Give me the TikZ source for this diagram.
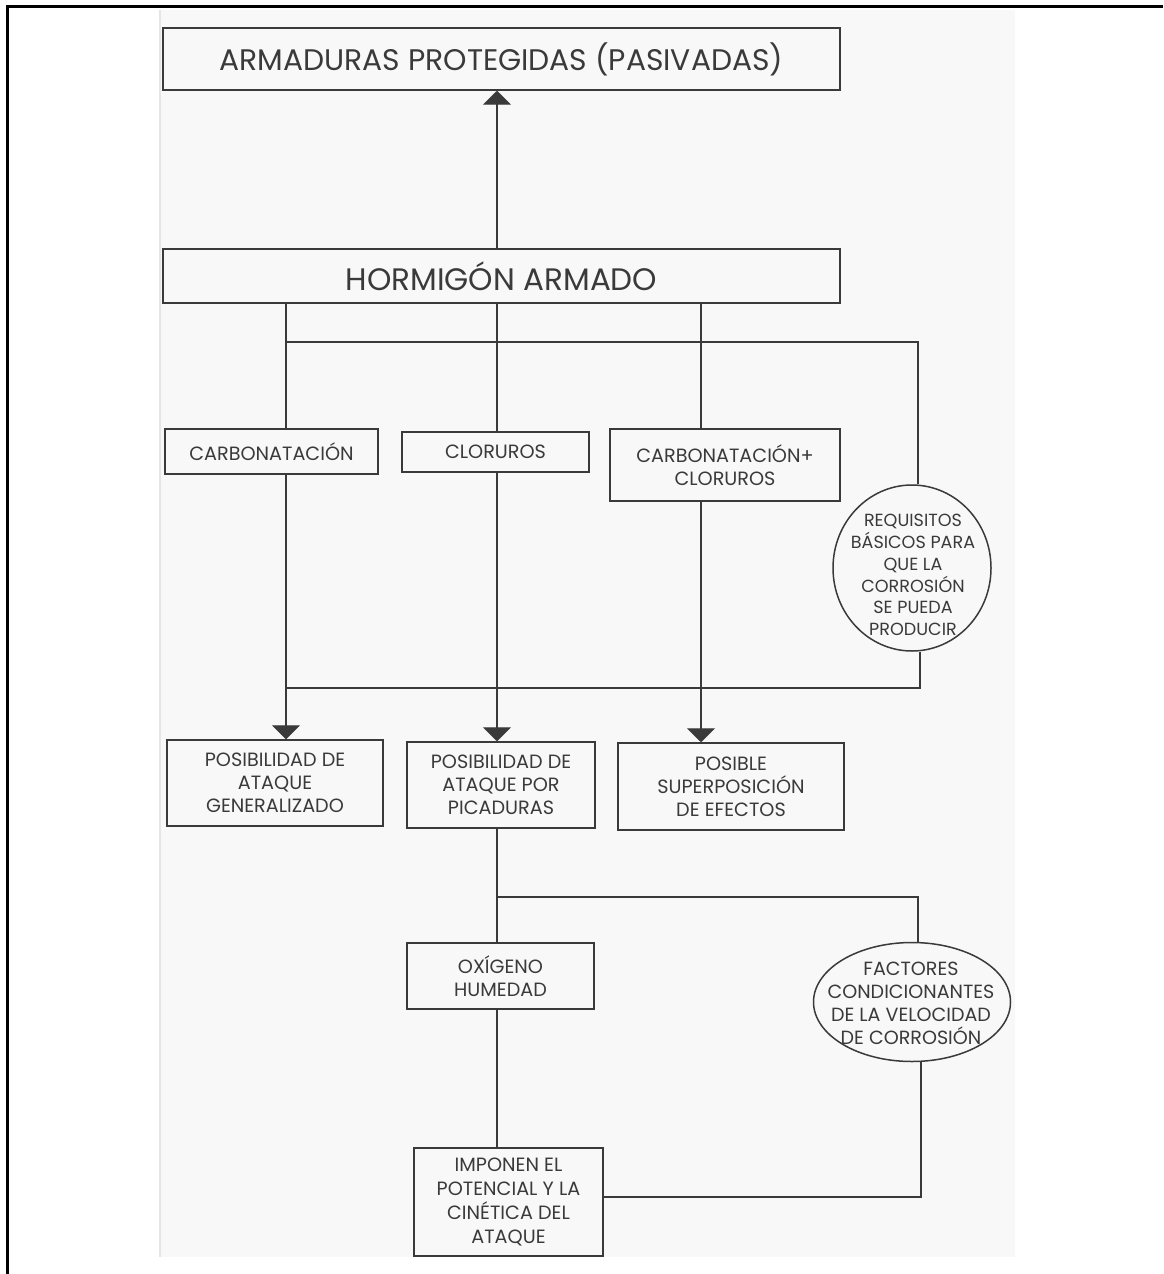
\documentclass[tikz,border=0pt]{standalone}
\usepackage{fontspec}
\setmainfont{Poppins}
\usetikzlibrary{shapes.geometric, arrows.meta, positioning, calc}
\definecolor{ink}{HTML}{3A3A3A}
\definecolor{sheet}{HTML}{F8F8F8}
\tikzset{
	box/.style={rectangle, draw=ink, line width=0.45mm, align=center, text=ink, inner sep=0pt, font=\fontsize{16.4}{19.6}\selectfont},
	bubble/.style={ellipse, draw=ink, line width=0.45mm, inner sep=0pt},
	line/.style={draw=ink, line width=0.4mm}
}

\begin{document}
\begin{tikzpicture}[
	x=0.3mm, y=-0.3mm,
	bubbletext/.style={text=ink, align=center, inner sep=0pt, font=\fontsize{15}{18.6}\selectfont},
	>={Triangle[length=4.2mm, width=8.4mm]}
	]
	\useasboundingbox (0,0) rectangle (1163,1274);
	
	% scanned sheet and frame
	\fill[sheet] (160,10) rectangle (1015,1257);
	\draw[black!10, line width=0.6mm] (160,10) -- (160,1257);
	\draw[black, line width=0.9mm] (7,1274) -- (7,7) -- (1163,7);
	
	% Main column
	\node[box, minimum width=203.1mm, minimum height=18.6mm, font=\fontsize{25.4}{30}\selectfont] (protegidas) at (501.5,59) {ARMADURAS PROTEGIDAS (PASIVADAS)};
	\node[box, minimum width=203.1mm, minimum height=16.2mm, font=\fontsize{26.5}{30}\selectfont] (hormigon) at (501.5,276) {HORMIGÓN ARMADO};
	
	% Causes
	\node[box, minimum width=63.9mm, minimum height=13.5mm] (carbonatacion) at (271.5,451.5) {CARBONATACIÓN};
	\node[box, minimum width=56.1mm, minimum height=12mm] (cloruros) at (495.5,452) {CLORUROS};
	\node[box, minimum width=69mm, minimum height=21.6mm] (mixto) at (725,465) {CARBONATACIÓN+\\CLORUROS};
	\node[bubble, minimum width=47.4mm, minimum height=49.8mm] (requisitos) at (912,568) {};
	\node[bubbletext] (requisitos_text) at (913,575) {REQUISITOS\\BÁSICOS PARA\\QUE LA\\CORROSIÓN\\SE PUEDA\\PRODUCIR};
	
	% Effects
	\node[box, minimum width=64.8mm, minimum height=25.8mm] (generalizado) at (275,783) {POSIBILIDAD DE\\ATAQUE\\GENERALIZADO};
	\node[box, minimum width=56.4mm, minimum height=25.8mm] (picaduras) at (501,785) {POSIBILIDAD DE\\ATAQUE POR\\PICADURAS};
	\node[box, minimum width=67.8mm, minimum height=26.1mm] (superposicion) at (731,786.5) {POSIBLE\\SUPERPOSICIÓN\\DE EFECTOS};
	
	% Rate of corrosion
	\node[box, minimum width=56.1mm, minimum height=19.8mm] (oxigeno) at (500.5,976) {OXÍGENO\\HUMEDAD};
	\node[bubble, minimum width=59.1mm, minimum height=35.7mm] (factores) at (912,1002) {};
	\node[bubbletext, font=\fontsize{16.3}{19.6}\selectfont] (factores_text) at (911,1003) {FACTORES\\CONDICIONANTES\\DE LA VELOCIDAD\\DE CORROSIÓN};
	\node[box, minimum width=56.7mm, minimum height=32.4mm, font=\fontsize{16.4}{20.5}\selectfont] (imponen) at (508.5,1202) {IMPONEN EL\\POTENCIAL Y LA\\CINÉTICA DEL\\ATAQUE};
	
	% bus points
	\coordinate (spine) at (497,0);
	\coordinate (tap_left) at (286,342);
	\coordinate (tap_mixed) at (701,342);
	\coordinate (tap_right) at (918,342);
	\coordinate (join_right) at (920,688);
	\coordinate (join_left) at (286,688);
	\coordinate (split) at (497,897);
	\coordinate (split_right) at (918,897);
	\coordinate (return_right) at (921,1197);
	
	% up to the passivated steel
	\draw[line, ->] (hormigon.north -| spine) -- (protegidas.south -| spine);
	
	% from the concrete to the causes
	\draw[line] (hormigon.south -| tap_left) -- (carbonatacion.north -| tap_left);
	\draw[line] (hormigon.south -| spine) -- (cloruros.north -| spine);
	\draw[line] (hormigon.south -| tap_mixed) -- (mixto.north -| tap_mixed);
	\draw[line] (tap_left) -- (tap_right) -- (requisitos.north -| tap_right);
	
	% causes to effects
	\draw[line, ->] (carbonatacion.south -| tap_left) -- (generalizado.north -| tap_left);
	\draw[line, ->] (cloruros.south -| spine) -- (picaduras.north -| spine);
	\draw[line, ->] (mixto.south -| tap_mixed) -- (superposicion.north -| tap_mixed);
	\draw[line] (requisitos.south -| join_right) -- (join_right) -- (join_left);
	
	% pitting branch
	\draw[line] (picaduras.south -| split) -- (oxigeno.north -| split);
	\draw[line] (split) -- (split_right) -- (factores.north -| split_right);
	\draw[line] (oxigeno.south -| split) -- (imponen.north -| split);
	\draw[line] (factores.south -| return_right) -- (return_right) -- (imponen.east |- return_right);
	
\end{tikzpicture}
\end{document}
